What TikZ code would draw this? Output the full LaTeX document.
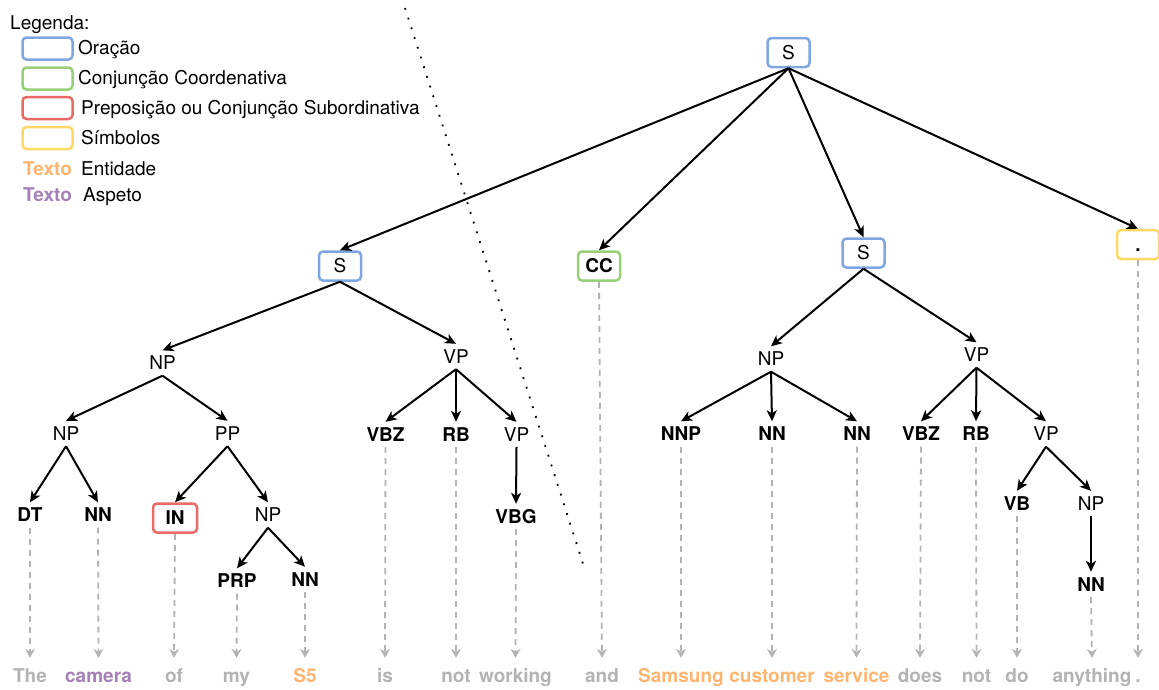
\documentclass[tikz,border=0pt]{standalone}
\usepackage{fontspec}
\setmainfont{TeX Gyre Heros}
\usetikzlibrary{arrows.meta}
\definecolor{cblue}{HTML}{7EA6E0}
\definecolor{cgreen}{HTML}{97D077}
\definecolor{cred}{HTML}{EA6B66}
\definecolor{cyellow}{HTML}{FFD966}
\definecolor{corange}{HTML}{FFB570}
\definecolor{cpurple}{HTML}{A680B8}
\definecolor{cgray}{HTML}{B3B3B3}
\newcommand{\fsz}{\fontsize{19}{22}\selectfont}
\tikzset{
  lbl/.style={font=\fsz, text height=13pt, text depth=0pt, inner xsep=2pt, inner ysep=6pt},
  tag/.style={lbl, font=\fsz\bfseries},
  cbox/.style={draw=#1, rounded corners=4pt, line width=2.5pt, minimum width=42pt, minimum height=29pt, inner sep=0pt, font=\fsz, text height=13pt, text depth=0pt},
  word/.style={font=\fsz\bfseries, text=cgray, text height=13pt, text depth=0pt, inner xsep=1pt, inner ysep=11pt},
  legbox/.style={draw=#1, rounded corners=4pt, line width=2.5pt, minimum width=50pt, minimum height=22pt, inner sep=0pt},
  legtxt/.style={font=\fsz, anchor=west, inner sep=0pt, text height=13pt, text depth=0pt},
  edge/.style={line width=2pt, -{Stealth[length=11pt,width=10pt,inset=3pt]}},
  gedge/.style={line width=1.8pt, draw=cgray, dash pattern=on 6pt off 5pt, -{Stealth[length=9pt,width=10pt,inset=3pt]}},
}
\begin{document}
\begin{tikzpicture}[x=1pt,y=-1pt]
\useasboundingbox (0,0) rectangle (1159,689);

% legend
\node[legtxt] (leg) at (10,23) {Legenda:};
\node[legbox=cblue] (lb1) at (47.5,48.5) {};
\node[legtxt] (lt1) at (78,48) {Oração};
\node[legbox=cgreen] (lb2) at (47.5,78.5) {};
\node[legtxt] (lt2) at (78,78) {Conjunção Coordenativa};
\node[legbox=cred] (lb3) at (47.5,108) {};
\node[legtxt] (lt3) at (81,108) {Preposição ou Conjunção Subordinativa};
\node[legbox=cyellow] (lb4) at (47.5,138) {};
\node[legtxt] (lt4) at (81,138) {Símbolos};
\node[legtxt, text=corange, font=\fsz\bfseries] (lt5a) at (23,169) {Texto};
\node[legtxt] (lt5) at (81,169) {Entidade};
\node[legtxt, text=cpurple, font=\fsz\bfseries] (lt6a) at (23,195) {Texto};
\node[legtxt] (lt6) at (83,195) {Aspeto};

% dotted separator
\coordinate (d1) at (405,8);
\coordinate (d2) at (585,570);
\draw[line width=1.8pt, dash pattern=on 1.8pt off 8.4pt] (d1) -- (d2);

% tree nodes
\node[cbox=cblue] (S0) at (788.5,52.5) {S};
\node[cbox=cblue] (Sl) at (340,266) {S};
\node[cbox=cgreen, font=\fsz\bfseries] (CC) at (599,266) {CC};
\node[cbox=cblue] (Sr) at (863.5,253) {S};
\node[cbox=cyellow, font=\fsz\bfseries] (DOT) at (1138,244.5) {.};

\node[lbl] (NPl) at (162.5,363) {NP};
\node[lbl] (VPl) at (456,356.5) {VP};
\node[lbl] (NPr) at (771,359) {NP};
\node[lbl] (VPr) at (976.5,355) {VP};

\node[lbl] (NPa) at (66,433.5) {NP};
\node[lbl] (PP) at (227.5,433.5) {PP};
\node[tag] (VBZl) at (385.5,434.5) {VBZ};
\node[tag] (RBl) at (456,434.5) {RB};
\node[lbl] (VPm) at (516.5,434.5) {VP};
\node[tag] (NNP) at (681,434) {NNP};
\node[tag] (NNr1) at (772,434) {NN};
\node[tag] (NNr2) at (857,434) {NN};
\node[tag] (VBZr) at (921,434) {VBZ};
\node[tag] (RBr) at (976,434) {RB};
\node[lbl] (VPn) at (1046,434) {VP};

\node[tag] (DT) at (30,515) {DT};
\node[tag] (NNa) at (98,515) {NN};
\node[cbox=cred, minimum width=44pt, font=\fsz\bfseries] (IN) at (175,518) {IN};
\node[lbl] (NPb) at (268,515) {NP};
\node[tag] (VBG) at (516,516.5) {VBG};
\node[tag] (VB) at (1017,503.5) {VB};
\node[lbl] (NPc) at (1091,503.5) {NP};

\node[tag] (PRP) at (237,581) {PRP};
\node[tag] (NNb) at (305,579.5) {NN};
\node[tag] (NNc) at (1091,584.5) {NN};

% words
\node[word] (w1) at (30,675.5) {The};
\node[word, text=cpurple] (w2) at (98.5,675.5) {camera};
\node[word] (w3) at (174,675.5) {of};
\node[word] (w4) at (236.5,675.5) {my};
\node[word, text=corange] (w5) at (305,675.5) {S5};
\node[word] (w6) at (385,675.5) {is};
\node[word] (w7) at (456,675.5) {not};
\node[word] (w8) at (515.5,675.5) {working};
\node[word] (w9) at (602,675.5) {and};
\node[word, text=corange] (w10) at (681,675.5) {Samsung};
\node[word, text=corange] (w11) at (772,675.5) {customer};
\node[word, text=corange] (w12) at (856.5,675.5) {service};
\node[word] (w13) at (920,675.5) {does};
\node[word] (w14) at (976.5,675.5) {not};
\node[word] (w15) at (1017,675.5) {do};
\node[word] (w16) at (1092,675.5) {anything};
\node[word] (w17) at (1138,675.5) {.};

% tree edges
\draw[edge] (S0.south) -- (Sl.north);
\draw[edge] (S0.south) -- (CC.north);
\draw[edge] (S0.south) -- (Sr.north);
\draw[edge] (S0.south) -- (DOT.north);
\draw[edge] (Sl.south) -- (NPl.north);
\draw[edge] (Sl.south) -- (VPl.north);
\draw[edge] (Sr.south) -- (NPr.north);
\draw[edge] (Sr.south) -- (VPr.north);
\draw[edge] (NPl.south) -- (NPa.north);
\draw[edge] (NPl.south) -- (PP.north);
\draw[edge] (NPa.south) -- (DT.north);
\draw[edge] (NPa.south) -- (NNa.north);
\draw[edge] (PP.south) -- (IN.north);
\draw[edge] (PP.south) -- (NPb.north);
\draw[edge] (NPb.south) -- (PRP.north);
\draw[edge] (NPb.south) -- (NNb.north);
\draw[edge] (VPl.south) -- (VBZl.north);
\draw[edge] (VPl.south) -- (RBl.north);
\draw[edge] (VPl.south) -- (VPm.north);
\draw[edge] (VPm.south) -- (VBG.north);
\draw[edge] (NPr.south) -- (NNP.north);
\draw[edge] (NPr.south) -- (NNr1.north);
\draw[edge] (NPr.south) -- (NNr2.north);
\draw[edge] (VPr.south) -- (VBZr.north);
\draw[edge] (VPr.south) -- (RBr.north);
\draw[edge] (VPr.south) -- (VPn.north);
\draw[edge] (VPn.south) -- (VB.north);
\draw[edge] (VPn.south) -- (NPc.north);
\draw[edge] (NPc.south) -- (NNc.north);

% dashed word links
\draw[gedge] (DT.south) -- (w1.north);
\draw[gedge] (NNa.south) -- (w2.north);
\draw[gedge] (IN.south) -- (w3.north);
\draw[gedge] (PRP.south) -- (w4.north);
\draw[gedge] (NNb.south) -- (w5.north);
\draw[gedge] (VBZl.south) -- (w6.north);
\draw[gedge] (RBl.south) -- (w7.north);
\draw[gedge] (VBG.south) -- (w8.north);
\draw[gedge] (CC.south) -- (w9.north);
\draw[gedge] (NNP.south) -- (w10.north);
\draw[gedge] (NNr1.south) -- (w11.north);
\draw[gedge] (NNr2.south) -- (w12.north);
\draw[gedge] (VBZr.south) -- (w13.north);
\draw[gedge] (RBr.south) -- (w14.north);
\draw[gedge] (VB.south) -- (w15.north);
\draw[gedge] (NNc.south) -- (w16.north);
\draw[gedge] (DOT.south) -- (w17.north);
\end{tikzpicture}
\end{document}
